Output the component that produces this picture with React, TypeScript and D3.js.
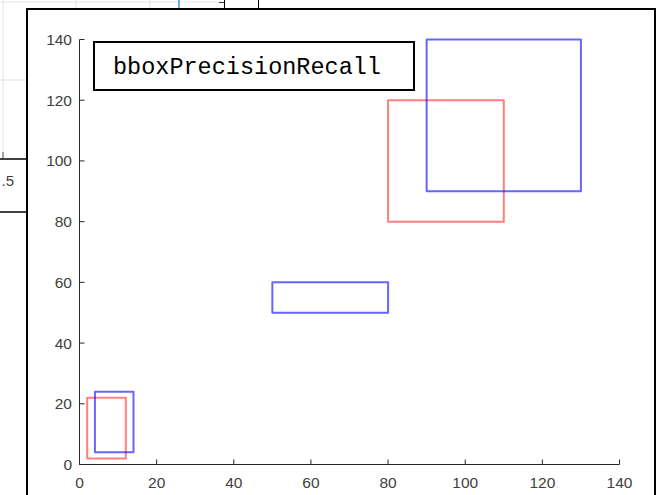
import React from 'react';
import * as d3 from 'd3';

// boxes as [x, y, width, height] in data units
const predictedBoxes: number[][] = [
  [2, 2, 10, 20],
  [80, 80, 30, 40],
];
const groundTruthBoxes: number[][] = [
  [4, 4, 10, 20],
  [50, 50, 30, 10],
  [90, 90, 40, 50],
];
const xTicks = [0, 20, 40, 60, 80, 100, 120, 140];
const yTicks = [0, 20, 40, 60, 80, 100, 120, 140];
const titleText = 'bboxPrecisionRecall';
const behindLabel = '.5';

const W = 664;
const H = 495;

const App = () => {
  const x = d3.scaleLinear().domain([0, 140]).range([79.5, 619.5]);
  const y = d3.scaleLinear().domain([0, 140]).range([464.5, 39.5]);
  const axisColor = '#262626';
  const labelColor = '#404040';
  const tickLen = 5;
  const font = 'Arial, "Liberation Sans", Helvetica, sans-serif';

  const drawBox = (b: number[], color: string, opacity: number, i: number) => (
    <rect
      key={color + i}
      x={x(b[0])}
      y={y(b[1] + b[3])}
      width={x(b[0] + b[2]) - x(b[0])}
      height={y(b[1]) - y(b[1] + b[3])}
      fill="none"
      stroke={color}
      strokeOpacity={opacity}
      strokeWidth={2}
      strokeLinejoin="round"
    />
  );

  return (
    <div style={{ position: 'fixed', left: 0, top: 0 }}>
      <svg width={W} height={H} style={{ display: 'block', background: '#fff' }}>
        {/* the figure window lying behind */}
        <g>
          <line x1={0} y1={2} x2={222} y2={2} stroke="#e8e8e8" />
          <line x1={3} y1={0} x2={3} y2={158} stroke="#e3e3e3" />
          <line x1={76} y1={0} x2={76} y2={9} stroke="#e3e3e3" />
          <line x1={150} y1={0} x2={150} y2={9} stroke="#e3e3e3" />
          <line x1={0} y1={80} x2={27} y2={80} stroke="#e3e3e3" />
          <line x1={3} y1={152} x2={3} y2={158} stroke="#555" />
          <line x1={179} y1={0} x2={179} y2={9} stroke="#4a90d9" strokeWidth={1.5} />
          <line x1={219} y1={2.5} x2={224} y2={2.5} stroke="#333" />
          <line x1={224.5} y1={0} x2={224.5} y2={9} stroke="#000" />
          <line x1={258.5} y1={0} x2={258.5} y2={9} stroke="#000" />
          <rect x={-2} y={159} width={30} height={53} fill="#fff" stroke="#000" strokeWidth={1.5} />
          <text x={14} y={180} textAnchor="end" dominantBaseline="central" fill={labelColor} fontFamily={font} fontSize={15}>
            {behindLabel}
          </text>
        </g>

        {/* current figure window */}
        <rect x={27} y={9} width={628} height={H} fill="#fff" stroke="#000" strokeWidth={2} />

        {/* axes */}
        <line x1={x(0)} y1={y(0)} x2={x(140)} y2={y(0)} stroke={axisColor} />
        <line x1={x(0)} y1={y(0)} x2={x(0)} y2={y(140)} stroke={axisColor} />
        {xTicks.map((t) => (
          <g key={'x' + t}>
            <line x1={x(t)} y1={y(0)} x2={x(t)} y2={y(0) - tickLen} stroke={axisColor} />
            <text x={x(t)} y={482} textAnchor="middle" dominantBaseline="central" fill={labelColor} fontFamily={font} fontSize={15.5}>
              {t}
            </text>
          </g>
        ))}
        {yTicks.map((t) => (
          <g key={'y' + t}>
            <line x1={x(0)} y1={y(t)} x2={x(0) + tickLen} y2={y(t)} stroke={axisColor} />
            <text x={72} y={y(t)} textAnchor="end" dominantBaseline="central" fill={labelColor} fontFamily={font} fontSize={15.5}>
              {t}
            </text>
          </g>
        ))}

        {/* boxes */}
        {predictedBoxes.map((b, i) => drawBox(b, '#ff0000', 0.5, i))}
        {groundTruthBoxes.map((b, i) => drawBox(b, '#0000ff', 0.6, i))}

        {/* title annotation */}
        <rect x={94} y={42} width={320} height={48} fill="#fff" stroke="#000" strokeWidth={2} />
        <text x={113} y={67} dominantBaseline="central" fill="#000" fontFamily='"Courier New", "Liberation Mono", monospace' fontSize={23.5}>
          {titleText}
        </text>
      </svg>
    </div>
  );
};

export default App;
